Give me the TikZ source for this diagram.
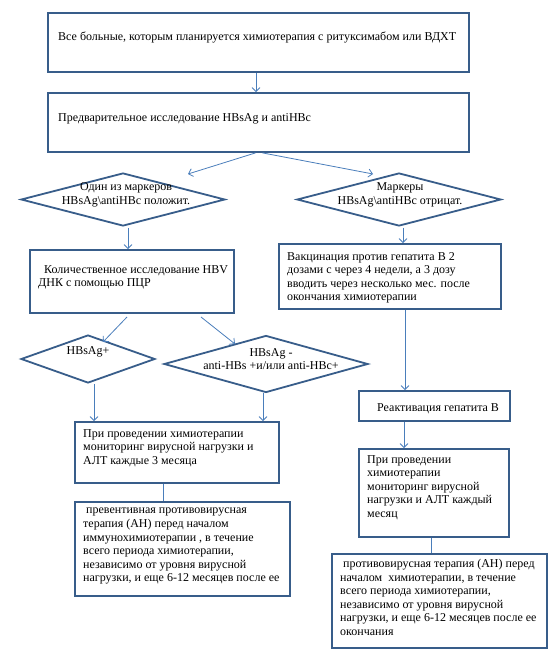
\documentclass[tikz,border=0pt]{standalone}
\usepackage{fontspec}
\setmainfont{Liberation Serif}
\usetikzlibrary{arrows.meta,shapes.geometric,calc}
\definecolor{boxline}{HTML}{385D8A}
\definecolor{arrline}{HTML}{4A7EBB}
\begin{document}
\begin{tikzpicture}[x=1pt,y=-1pt,
  box/.style={draw=boxline,line width=1.8pt,rectangle,inner sep=0pt},
  dia/.style={draw=boxline,line width=1.8pt,diamond,inner sep=0pt},
  txt/.style={inner sep=0pt,align=left,font=\fontsize{12}{13.6}\selectfont},
  ctxt/.style={inner sep=0pt,align=center,font=\fontsize{12}{13.6}\selectfont},
  arr/.style={draw=arrline,line width=0.8pt,-{Straight Barb[length=4pt,width=8pt]}},
  ln/.style={draw=arrline,line width=0.8pt}]
\useasboundingbox (0,0) rectangle (555,658);
\fill[white] (0,0) rectangle (555,658);
% boxes
\node[box,minimum width=421pt,minimum height=59pt] (b1) at (258.5,42.5) {};
\node[box,minimum width=421pt,minimum height=59pt] (b2) at (258.5,122.5) {};
\node[dia,minimum width=204pt,minimum height=53pt] (d1) at (123,199.5) {};
\node[dia,minimum width=204pt,minimum height=53pt] (d2) at (399,199.5) {};
\node[box,minimum width=204pt,minimum height=63pt] (b3) at (132,281.5) {};
\node[box,minimum width=222pt,minimum height=65pt] (b4) at (390,276.5) {};
\node[dia,minimum width=134pt,minimum height=48pt] (d3) at (88,359) {};
\node[dia,minimum width=204pt,minimum height=57pt] (d4) at (266,364) {};
\node[box,minimum width=204pt,minimum height=61pt] (b5) at (177,452.5) {};
\node[box,minimum width=215pt,minimum height=94pt] (b6) at (182.5,549) {};
\node[box,minimum width=151pt,minimum height=30pt] (b7) at (434.5,406) {};
\node[box,minimum width=150pt,minimum height=88pt] (b8) at (434,493) {};
\node[box,minimum width=215pt,minimum height=94pt] (b9) at (439.5,601) {};
% texts
\node[txt,anchor=west] (t1) at (58,38) {Все больные, которым планируется химиотерапия с ритуксимабом или ВДХТ};
\node[txt,anchor=west] (t2) at (58,119) {Предварительное исследование HBsAg и antiHBc};
\node[ctxt] (t3) at (126,195) {Один из маркеров\\HBsAg\textbackslash antiHBc положит.};
\node[ctxt] (t4) at (400,195) {Маркеры\\HBsAg\textbackslash antiHBc отрицат.};
\node[txt,anchor=north west] (t5) at (38,265) {\ \ Количественное исследование HBV\\ДНК с помощью ПЦР};
\node[txt,anchor=north west] (t6) at (287,252) {Вакцинация против гепатита В 2\\дозами с через 4 недели, а 3 дозу\\вводить через несколько мес. после\\окончания химиотерапии};
\node[ctxt] (t7) at (88,352) {HBsAg+};
\node[ctxt] (t8) at (271,359) {HBsAg -\\anti-HBs +и/или anti-HBc+};
\node[txt,anchor=north west] (t9) at (83,429) {При проведении химиотерапии\\мониторинг вирусной нагрузки и\\АЛТ каждые 3 месяца};
\node[txt,anchor=north west] (t10) at (83,508) {\ превентивная противовирусная\\терапия (АН) перед началом\\иммунохимиотерапии , в течение\\всего периода химиотерапии,\\независимо от уровня вирусной\\нагрузки, и еще 6-12 месяцев после ее};
\node[txt,anchor=west] (t11) at (377,408.5) {Реактивация гепатита В};
\node[txt,anchor=north west] (t12) at (367,455) {При проведении\\химиотерапии\\мониторинг вирусной\\нагрузки и АЛТ каждый\\месяц};
\node[txt,anchor=north west] (t13) at (340,559) {\ противовирусная терапия (АН) перед\\началом\ \ химиотерапии, в течение\\всего периода химиотерапии,\\независимо от уровня вирусной\\нагрузки, и еще 6-12 месяцев после ее\\окончания};
% connectors
\draw[arr] ($(b1.south)+(-2.5,0)$) -- ($(b2.north)+(-2.5,0)$);
\coordinate (e1) at (188,174);
\coordinate (e2) at (373,174);
\draw[arr] ($(b2.south)+(-3,0)$) -- (e1);
\draw[arr] ($(b2.south)+(4,0)$) -- (e2);
\draw[arr] ($(d1.south)+(5,1)$) -- ($(b3.north)+(-4,0)$);
\draw[arr] ($(d2.south)+(4,1)$) -- ($(b4.north)+(13,0)$);
\coordinate (s1) at (127,317);
\coordinate (s2) at (201,317);
\coordinate (e3) at (103,342);
\coordinate (e4) at (235,344);
\draw[arr] (s1) -- (e3);
\draw[arr] (s2) -- (e4);
\draw[arr] ($(d3.south)+(6,0)$) -- ($(b5.north)+(-83,0)$);
\draw[arr] ($(d4.south)+(-3,0)$) -- ($(b5.north)+(86,0)$);
\draw[ln] ($(b5.south)+(-14,0)$) -- ($(b6.north)+(-19.5,0)$);
\draw[arr] ($(b4.south)+(15,0)$) -- ($(b7.north)+(-29.5,0)$);
\draw[arr] ($(b7.south)+(-30.5,0)$) -- ($(b8.north)+(-30,0)$);
\draw[ln] ($(b8.south)+(-3,0)$) -- ($(b9.north)+(-8.5,0)$);
\end{tikzpicture}
\end{document}
